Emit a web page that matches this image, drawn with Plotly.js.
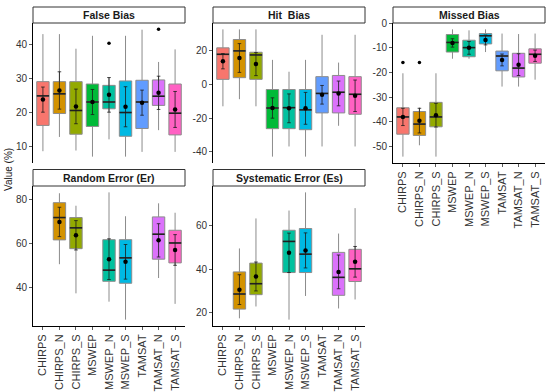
<!DOCTYPE html>
<html>
<head>
<meta charset="utf-8">
<script src="https://cdn.plot.ly/plotly-3.0.1.min.js"></script>
<style>html,body{margin:0;padding:0;background:#fff}#chart{width:550px;height:392px}</style>
</head>
<body>
<div id="chart"></div>
<script>
const categories = ['CHIRPS','CHIRPS_N','CHIRPS_S','MSWEP','MSWEP_N','MSWEP_S','TAMSAT','TAMSAT_N','TAMSAT_S'];
const colors = ['#F8766D','#D39200','#93AA00','#00BA38','#00C19F','#00B9E3','#619CFF','#DB72FB','#FF61C3'];
const panelTitles = ['False Bias','Hit  Bias','Missed Bias','Random Error (Er)','Systematic Error (Es)'];
const yAxisTitle = 'Value (%)';

// False Bias
const fbLower  = [8.5, 12.7, 8.7, 6.9, 12.0, 6.9, 8.3, 14.7, 8.3];
const fbQ1     = [16.1, 19.6, 13.5, 15.8, 21.0, 12.9, 15.2, 22.0, 13.3];
const fbMedian = [24.8, 25.4, 20.5, 23.0, 23.0, 19.9, 23.0, 24.7, 19.7];
const fbQ3     = [29.0, 29.0, 29.0, 28.3, 27.9, 29.2, 29.4, 29.5, 28.3];
const fbUpper  = [43.0, 43.0, 38.7, 42.5, 30.2, 42.5, 44.3, 34.8, 38.5];
const fbMean   = [23.7, 26.4, 21.7, 23.0, 25.1, 21.6, 22.8, 25.7, 20.8];
const fbSd     = [3.7, 5.5, 5.1, 3.7, 5.1, 5.9, 3.7, 4.9, 5.3];
const fbOutX   = ['MSWEP_N','TAMSAT_N'];
const fbOutY   = [40.3, 44.4];
const fbTicks  = [10, 20, 30, 40];
const fbTickText = ['10','20','30','40'];

// Hit Bias
const hbLower  = [-13.1, -8.9, -13.1, -42.8, -36.8, -42.8, -36.8, -24.6, -36.8];
const hbQ1     = [2.8, 3.8, 2.8, -26.3, -26.3, -26.9, -17.0, -17.0, -17.8];
const hbMedian = [17.6, 19.6, 17.2, -14.1, -13.9, -15.2, -5.5, -4.8, -6.0];
const hbQ3     = [21.4, 26.3, 18.8, -3.2, -3.2, -3.2, 4.4, 5.1, 4.4];
const hbUpper  = [32.3, 32.3, 32.3, 14.3, 7.3, 14.3, 29.1, 12.7, 29.1];
const hbMean   = [13.5, 15.4, 11.8, -14.1, -14.3, -14.3, -6.3, -5.5, -6.9];
const hbSd     = [4.5, 8.5, 6.8, 6.0, 8.5, 9.4, 5.5, 7.3, 9.3];
const hbOutX   = [];
const hbOutY   = [];
const hbTicks  = [-40, -20, 0, 20];
const hbTickText = ['-40','-20','0','20'];

// Missed Bias
const mbLower  = [-54.1, -49.5, -54.1, -14.4, -14.4, -11.7, -25.7, -25.7, -22.9];
const mbQ1     = [-45.0, -45.5, -42.0, -11.7, -13.6, -8.4, -19.3, -21.8, -16.2];
const mbMedian = [-38.0, -40.9, -38.0, -7.8, -9.9, -5.1, -13.3, -18.2, -12.6];
const mbQ3     = [-34.3, -35.8, -32.1, -4.6, -6.9, -4.2, -11.3, -12.2, -10.4];
const mbUpper  = [-20.3, -34.2, -20.3, -2.5, -2.9, -2.5, -4.2, -4.4, -4.2];
const mbMean   = [-38.0, -39.5, -37.3, -8.0, -10.0, -6.8, -14.9, -16.8, -13.2];
const mbSd     = [3.5, 5.0, 4.8, 1.7, 2.6, 2.0, 2.4, 4.4, 2.3];
const mbOutX   = ['CHIRPS','CHIRPS_N'];
const mbOutY   = [-15.9, -15.9];
const mbTicks  = [-50, -40, -30, -20, -10, 0];
const mbTickText = ['-50','-40','-30','-20','-10','0'];

// Random Error (Er)
const erLower  = [null, 50.4, 37.1, null, 33.3, 25.1, null, 44.1, 32.3];
const erQ1     = [null, 61.5, 57.5, null, 42.6, 41.7, null, 52.7, 51.0];
const erMedian = [null, 71.7, 67.0, null, 47.7, 53.3, null, 64.1, 60.1];
const erQ3     = [null, 78.5, 71.7, null, 61.6, 61.6, null, 72.0, 65.9];
const erUpper  = [null, 82.8, 77.1, null, 83.2, 72.3, null, 78.2, 73.9];
const erMean   = [null, 69.7, 63.6, null, 52.7, 51.5, null, 61.3, 56.9];
const erSd     = [null, 6.7, 6.7, null, 9.3, 7.9, null, 7.6, 7.0];
const erOutX   = [];
const erOutY   = [];
const erTicks  = [40, 60, 80];
const erTickText = ['40','60','80'];

// Systematic Error (Es)
const esLower  = [null, 17.5, 22.9, null, 16.9, 27.7, null, 22.0, 26.1];
const esQ1     = [null, 21.7, 28.3, null, 38.4, 38.4, null, 28.0, 34.3];
const esMedian = [null, 28.6, 33.3, null, 52.6, 46.8, null, 36.2, 40.1];
const esQ3     = [null, 38.7, 42.7, null, 57.7, 58.5, null, 47.6, 49.0];
const esUpper  = [null, 49.4, 63.1, null, 66.7, 75.0, null, 56.2, 67.8];
const esMean   = [null, 30.6, 36.6, null, 47.4, 48.5, null, 38.7, 43.3];
const esSd     = [null, 6.8, 6.6, null, 9.0, 8.0, null, 7.7, 7.0];
const esOutX   = [];
const esOutY   = [];
const esTicks  = [20, 40, 60];
const esTickText = ['20','40','60'];

const panels = [
  {lower: fbLower, q1: fbQ1, median: fbMedian, q3: fbQ3, upper: fbUpper, mean: fbMean, sd: fbSd, outX: fbOutX, outY: fbOutY, ticks: fbTicks, tickText: fbTickText},
  {lower: hbLower, q1: hbQ1, median: hbMedian, q3: hbQ3, upper: hbUpper, mean: hbMean, sd: hbSd, outX: hbOutX, outY: hbOutY, ticks: hbTicks, tickText: hbTickText},
  {lower: mbLower, q1: mbQ1, median: mbMedian, q3: mbQ3, upper: mbUpper, mean: mbMean, sd: mbSd, outX: mbOutX, outY: mbOutY, ticks: mbTicks, tickText: mbTickText},
  {lower: erLower, q1: erQ1, median: erMedian, q3: erQ3, upper: erUpper, mean: erMean, sd: erSd, outX: erOutX, outY: erOutY, ticks: erTicks, tickText: erTickText},
  {lower: esLower, q1: esQ1, median: esMedian, q3: esQ3, upper: esUpper, mean: esMean, sd: esSd, outX: esOutX, outY: esOutY, ticks: esTicks, tickText: esTickText}
];

// ---- layout geometry (pixels) ----
const W = 550, H = 392;
const colX = [[33, 185], [213, 365], [393, 545]];
const rowY = [[23, 163], [186, 326]];       // plot area top/bottom
const stripY = [[7, 23], [169.5, 186]];     // strip top/bottom
const panelPos = [[0,0],[1,0],[2,0],[0,1],[1,1]];
const showX = [false, false, true, true, true];
const FONT = 'Liberation Sans, Arial, sans-serif';

const traces = [];
const layout = {
  width: W, height: H,
  margin: {l: 0, r: 0, t: 0, b: 0},
  paper_bgcolor: '#ffffff', plot_bgcolor: '#ffffff',
  showlegend: false,
  font: {family: FONT, color: '#333333'},
  shapes: [], annotations: []
};

panels.forEach((p, i) => {
  const n = i + 1;
  const xa = n === 1 ? 'x' : 'x' + n;
  const ya = n === 1 ? 'y' : 'y' + n;
  const [c, r] = panelPos[i];
  const cx = colX[c], ry = rowY[r], sy = stripY[r];

  // boxes
  categories.forEach((cat, k) => {
    if (p.median[k] === null) return;
    traces.push({
      type: 'box', orientation: 'v', xaxis: xa, yaxis: ya,
      x: [cat], q1: [p.q1[k]], median: [p.median[k]], q3: [p.q3[k]],
      lowerfence: [p.lower[k]], upperfence: [p.upper[k]],
      boxpoints: false, width: 0.75, whiskerwidth: 0,
      fillcolor: colors[k], line: {color: '#8c8c8c', width: 1},
      hoverinfo: 'skip', showlegend: false
    });
  });
  const present = categories.filter((_, k) => p.median[k] !== null);
  const pick = arr => arr.filter((_, k) => p.median[k] !== null);
  // median lines
  traces.push({
    type: 'scatter', mode: 'markers', xaxis: xa, yaxis: ya,
    x: present, y: pick(p.median),
    marker: {symbol: 'line-ew-open', size: 8.8, color: '#1f1f1f', line: {color: '#1f1f1f', width: 1.6}},
    hoverinfo: 'skip', showlegend: false
  });
  // mean +- sd
  traces.push({
    type: 'scatter', mode: 'markers', xaxis: xa, yaxis: ya,
    x: present, y: pick(p.mean),
    marker: {size: 4.5, color: '#000000'},
    error_y: {type: 'data', array: pick(p.sd), symmetric: true, color: '#1a1a1a', thickness: 0.8, width: 1.8},
    hoverinfo: 'skip', showlegend: false
  });
  // outliers
  if (p.outX.length) {
    traces.push({
      type: 'scatter', mode: 'markers', xaxis: xa, yaxis: ya,
      x: p.outX, y: p.outY,
      marker: {size: 3.5, color: '#000000'},
      hoverinfo: 'skip', showlegend: false
    });
  }

  // y range with 5% expansion like ggplot
  const vals = [].concat(p.lower, p.upper, p.outY,
    p.mean.map((m, k) => m === null ? null : m + p.sd[k]),
    p.mean.map((m, k) => m === null ? null : m - p.sd[k])).filter(v => v !== null);
  const mn = Math.min(...vals), mx = Math.max(...vals);
  const pad = (mx - mn) * 0.05;

  layout['xaxis' + (n === 1 ? '' : n)] = {
    domain: [cx[0] / W, cx[1] / W], anchor: ya,
    type: 'category', categoryorder: 'array', categoryarray: categories,
    range: [-0.6, categories.length - 0.4],
    showgrid: false, zeroline: false,
    showline: showX[i], linecolor: '#000000', linewidth: 1,
    ticks: showX[i] ? 'outside' : '', ticklen: 3, tickwidth: 0.8, tickcolor: '#333333',
    showticklabels: showX[i], tickangle: -90,
    tickfont: {family: FONT, size: 11, color: '#333333'},
    fixedrange: true
  };
  layout['yaxis' + (n === 1 ? '' : n)] = {
    domain: [1 - ry[1] / H, 1 - ry[0] / H], anchor: xa,
    range: [mn - pad, mx + pad],
    tickmode: 'array', tickvals: p.ticks, ticktext: p.tickText,
    showgrid: false, zeroline: false,
    showline: true, linecolor: '#000000', linewidth: 1,
    ticks: 'outside', ticklen: 3, tickwidth: 0.8, tickcolor: '#333333',
    tickfont: {family: FONT, size: 10, color: '#333333'},
    fixedrange: true
  };

  // strip
  layout.shapes.push({
    type: 'rect', xref: 'paper', yref: 'paper',
    x0: cx[0] / W, x1: cx[1] / W, y0: 1 - sy[1] / H, y1: 1 - sy[0] / H,
    fillcolor: '#ffffff', line: {color: '#333333', width: 1}
  });
  layout.annotations.push({
    xref: 'paper', yref: 'paper', x: (cx[0] + cx[1]) / 2 / W, y: 1 - (sy[0] + sy[1]) / 2 / H,
    text: '<b>' + panelTitles[i] + '</b>', showarrow: false,
    xanchor: 'center', yanchor: 'middle',
    font: {family: FONT, size: 10.5, color: '#1a1a1a'}
  });
});

layout.annotations.push({
  xref: 'paper', yref: 'paper', x: 8 / W, y: 1 - 170 / H,
  text: yAxisTitle, textangle: -90, showarrow: false,
  xanchor: 'center', yanchor: 'middle',
  font: {family: FONT, size: 10, color: '#1a1a1a'}
});

Plotly.newPlot('chart', traces, layout, {displayModeBar: false, staticPlot: true});
</script>
</body>
</html>
